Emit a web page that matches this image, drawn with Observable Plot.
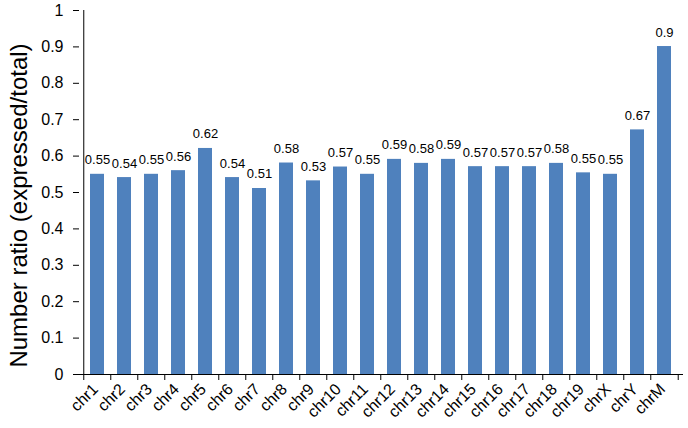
<!DOCTYPE html>
<html>
<head>
<meta charset="utf-8">
<script src="https://cdn.jsdelivr.net/npm/d3@7"></script>
<script src="https://cdn.jsdelivr.net/npm/@observablehq/plot@0.6"></script>
<style>
  html, body { margin: 0; padding: 0; background: #fff; }
  #chart svg { display: block; }
</style>
</head>
<body>
<div id="chart"></div>
<script>
const chromosomes = ["chr1","chr2","chr3","chr4","chr5","chr6","chr7","chr8","chr9","chr10","chr11","chr12","chr13","chr14","chr15","chr16","chr17","chr18","chr19","chrX","chrY","chrM"];
const ratios = [0.550,0.541,0.550,0.560,0.621,0.541,0.511,0.581,0.532,0.570,0.550,0.591,0.580,0.591,0.571,0.571,0.571,0.580,0.554,0.550,0.672,0.901];
const yTicks = [0,0.1,0.2,0.3,0.4,0.5,0.6,0.7,0.8,0.9,1];
const yTitle = "Number ratio (expressed/total)";

const data = chromosomes.map((c, i) => ({chr: c, value: ratios[i], label: String(+ratios[i].toFixed(2))}));

const W = 688, H = 428, ML = 79, MR = 5, MT = 10, MB = 54;
const step = (W - ML - MR) / chromosomes.length;
const font = "'Liberation Sans', Arial, Helvetica, sans-serif";

const chart = Plot.plot({
  width: W,
  height: H,
  marginLeft: ML,
  marginRight: MR,
  marginTop: MT,
  marginBottom: MB,
  style: {fontFamily: font, color: "#000", background: "#fff"},
  x: {domain: chromosomes, paddingInner: 0.48, paddingOuter: 0.24, label: null},
  y: {domain: [0, 1], label: null},
  marks: [
    Plot.barY(data, {x: "chr", y: "value", fill: "#4f81bd"}),
    Plot.axisY({ticks: yTicks, tickFormat: d => String(+d.toFixed(1)), tickSize: 6, tickPadding: 10, fontSize: 16, label: null}),
    Plot.axisX({tickRotate: -45, tickSize: 0, tickPadding: 12, dx: -2, fontSize: 16, label: null}),
    Plot.ruleY([0], {stroke: "#000"}),
    Plot.ruleX([chromosomes[0]], {x: d => d, dx: -step / 2, stroke: "#000"}),
    Plot.ruleX(chromosomes, {x: d => d, y1: 0, y2: 0, dx: -step / 2, insetBottom: -6, stroke: "#000"}),
    Plot.ruleX([chromosomes[chromosomes.length - 1]], {x: d => d, y1: 0, y2: 0, dx: step / 2, insetBottom: -6, stroke: "#000"}),
    Plot.text(data, {x: "chr", y: "value", text: "label", lineAnchor: "bottom", dy: -10, fontSize: 13, fill: "#000"}),
    Plot.text([yTitle], {frameAnchor: "left", textAnchor: "middle", rotate: -90, dx: -60, dy: 13, fontSize: 24, fill: "#000"})
  ]
});
document.getElementById("chart").appendChild(chart);
</script>
</body>
</html>
